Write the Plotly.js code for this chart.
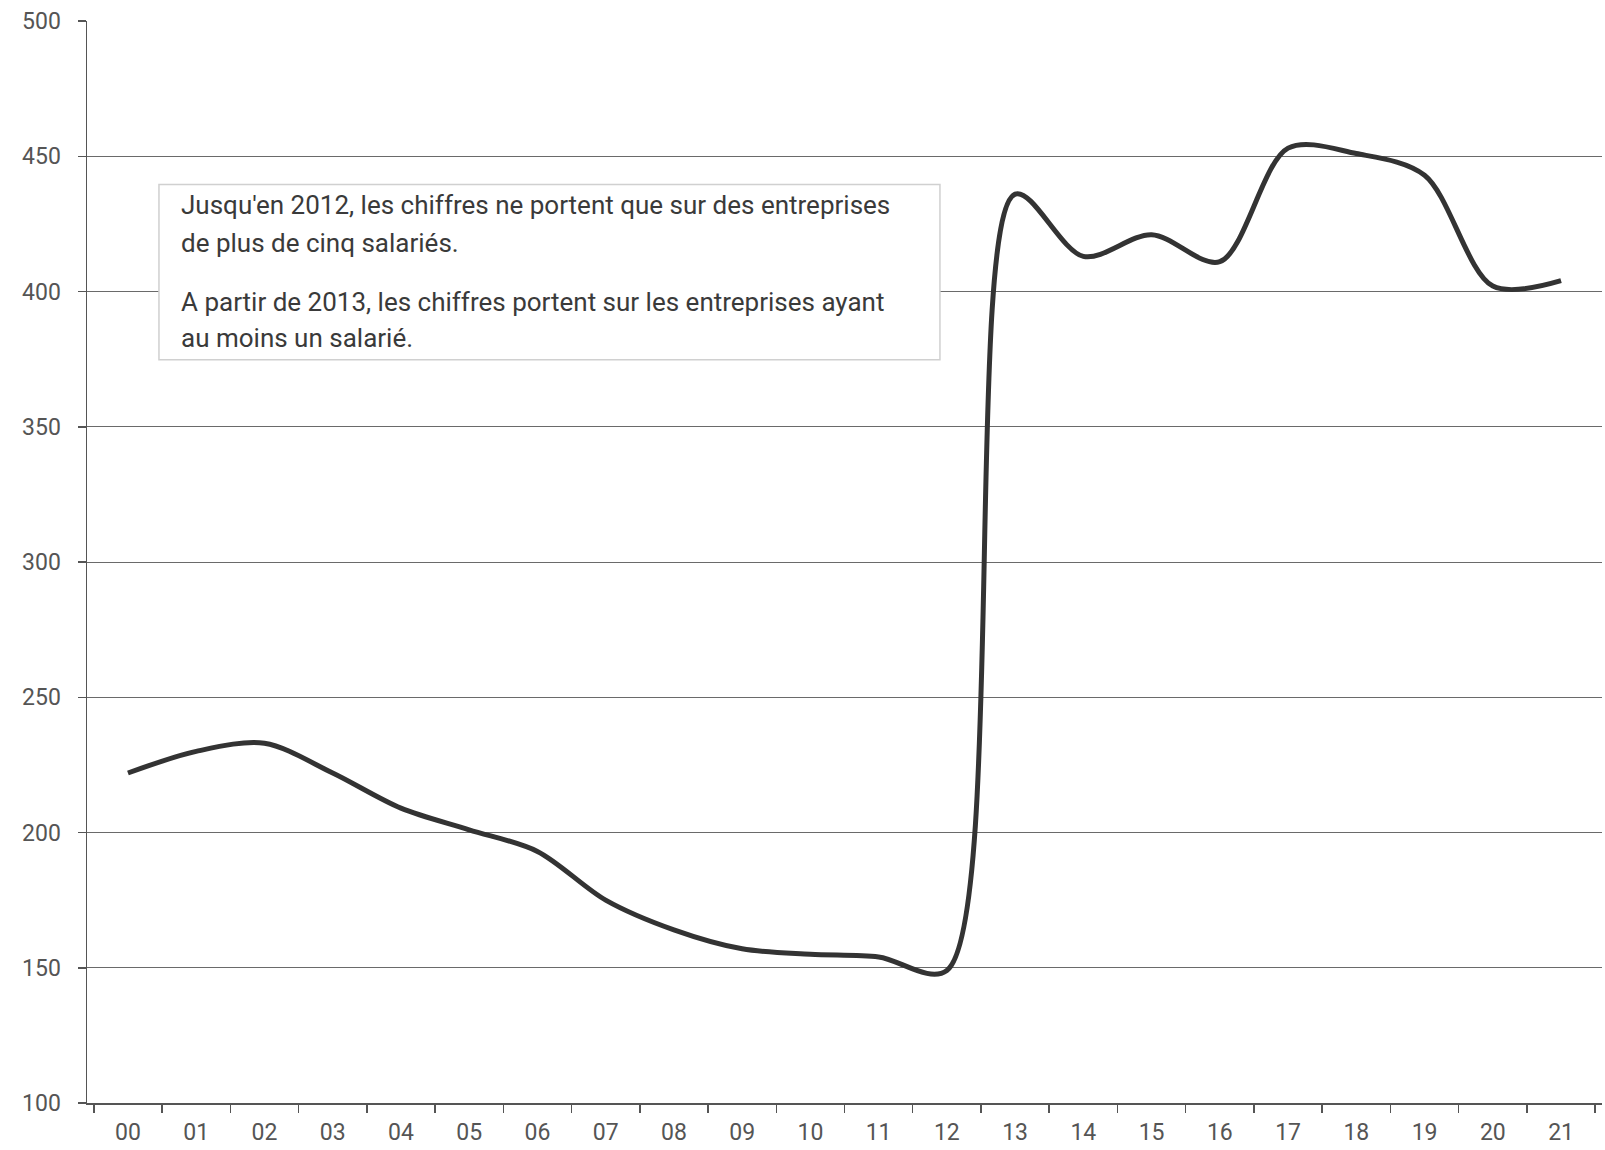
<!DOCTYPE html>
<html>
<head>
<meta charset="utf-8">
<script src="https://cdn.plot.ly/plotly-3.0.1.min.js"></script>
<style>
html,body{margin:0;padding:0;background:#fff;}
#chart{width:1605px;height:1150px;}
</style>
</head>
<body>
<div id="chart"></div>
<script>
var years = ["00","01","02","03","04","05","06","07","08","09","10","11","12","13","14","15","16","17","18","19","20","21"];
var values = [222, 230, 233, 222, 209, 201, 193, 175, 164, 157, 155, 154, 149, 436, 413, 421, 411, 453, 451, 443, 402, 404];
var yTicks = [100, 150, 200, 250, 300, 350, 400, 450, 500];
var noteLines = [
  "Jusqu'en 2012, les chiffres ne portent que sur des entreprises",
  "de plus de cinq salariés.",
  "A partir de 2013, les chiffres portent sur les entreprises ayant",
  "au moins un salarié."
];

var trace = {
  x: years,
  y: values,
  type: 'scatter',
  mode: 'lines',
  line: {shape: 'spline', smoothing: 0.9, color: '#333333', width: 5},
  hoverinfo: 'x+y'
};

var noteY = [0.830, 0.795, 0.740, 0.707];
var annotations = noteLines.map(function(t, i){
  return {
    xref: 'paper', yref: 'paper', x: 0.0607, y: noteY[i],
    xanchor: 'left', yanchor: 'middle', showarrow: false,
    text: t, align: 'left',
    font: {family: 'Roboto, sans-serif', size: 26, color: '#3a3a3a'}
  };
});

var layout = {
  width: 1605, height: 1150,
  margin: {l: 87, r: 3, t: 21, b: 47},
  paper_bgcolor: '#ffffff', plot_bgcolor: '#ffffff',
  showlegend: false,
  font: {family: 'Roboto, sans-serif', color: '#555555'},
  xaxis: {
    type: 'category',
    range: [-0.6, 21.6],
    tickson: 'boundaries',
    ticks: 'outside', ticklen: 8, tickcolor: '#555', tickwidth: 1.5,
    showline: true, linecolor: '#555', linewidth: 1.5,
    showgrid: false, zeroline: false,
    tickfont: {family: 'Roboto, sans-serif', size: 23, color: '#555'},
    ticklabelstandoff: 8
  },
  yaxis: {
    range: [100, 500],
    tickvals: yTicks,
    ticktext: yTicks.map(String),
    ticks: 'outside', ticklen: 8, tickcolor: '#555', tickwidth: 1.5,
    showline: true, linecolor: '#555', linewidth: 1.5,
    showgrid: true, gridcolor: '#6a6a6a', gridwidth: 1,
    zeroline: false,
    tickfont: {family: 'Roboto, sans-serif', size: 23, color: '#555'},
    ticklabelstandoff: 12
  },
  shapes: [{
    type: 'rect', xref: 'paper', yref: 'paper',
    x0: 0.0475, x1: 0.563, y0: 0.687, y1: 0.849,
    fillcolor: '#ffffff', line: {color: '#d0d0d0', width: 1.5},
    layer: 'above'
  }],
  annotations: annotations
};

Plotly.newPlot('chart', [trace], layout, {displayModeBar: false, staticPlot: true});
</script>
</body>
</html>
